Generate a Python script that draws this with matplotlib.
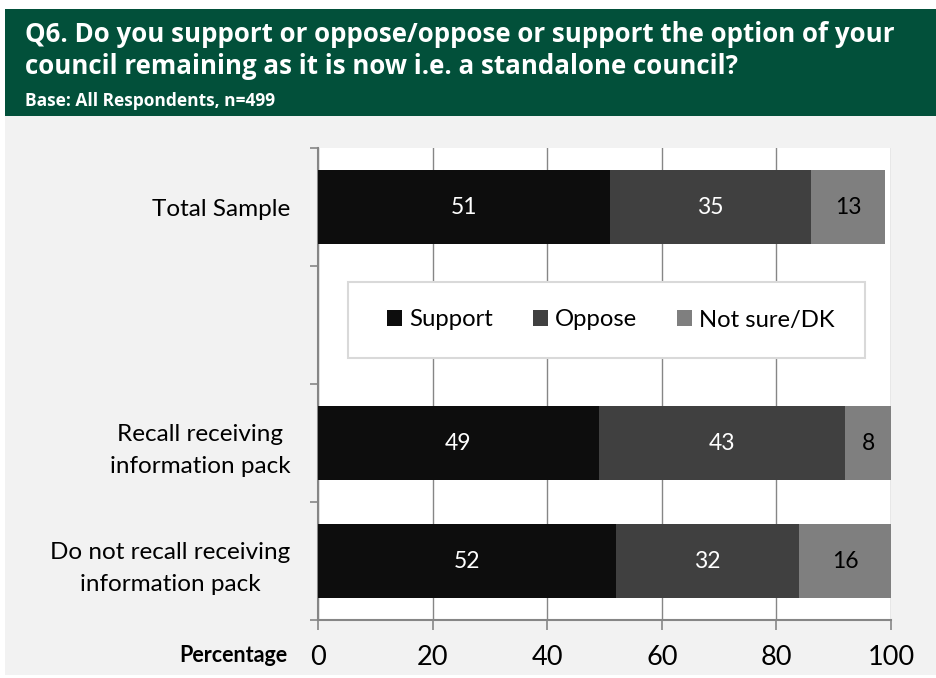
import numpy as np
import matplotlib.pyplot as plt
from matplotlib.patches import Rectangle

# data
categories = ['Total Sample', '', 'Recall receiving\ninformation pack',
              'Do not recall receiving\ninformation pack']
support = [51, np.nan, 49, 52]
oppose = [35, np.nan, 43, 32]
not_sure = [13, np.nan, 8, 16]
series_names = ['Support', 'Oppose', 'Not sure/DK']
colors = ['#0d0d0d', '#404040', '#7f7f7f']
label_colors = ['white', 'white', 'black']
xticks = [0, 20, 40, 60, 80, 100]

plt.rcParams['font.family'] = ['Lato', 'DejaVu Sans']

W, H = 936, 678
fig = plt.figure(figsize=(W / 100, H / 100), dpi=100)
fig.patch.set_facecolor('white')

# header band and grey panel
fig.patches.append(Rectangle((5 / W, 1 - 116 / H), 931 / W, 107 / H,
                             transform=fig.transFigure, facecolor='#02503a',
                             edgecolor='none', zorder=-2))
fig.patches.append(Rectangle((5 / W, 1 - 675 / H), 931 / W, 559 / H,
                             transform=fig.transFigure, facecolor='#f2f2f2',
                             edgecolor='none', zorder=-2))

fig.text(25 / W, 1 - 34 / H,
         'Q6. Do you support or oppose/oppose or support the option of your',
         color='white', fontsize=18.6, fontweight='bold', va='center',
         family='Open Sans')
fig.text(25 / W, 1 - 67 / H,
         'council remaining as it is now i.e. a standalone council?',
         color='white', fontsize=18.6, fontweight='bold', va='center',
         family='Open Sans')
fig.text(25 / W, 1 - 101 / H, 'Base: All Respondents, n=499',
         color='white', fontsize=12.5, fontweight='bold', va='center',
         family='Open Sans')

ax = fig.add_axes([318 / W, 1 - 620 / H, 573 / W, 472 / H])
ax.set_zorder(1)
ax.set_facecolor('white')

y = np.arange(len(categories))
left = np.zeros(len(categories))
handles = []
for vals, name, c, lc in zip([support, oppose, not_sure], series_names,
                             colors, label_colors):
    vals = np.array(vals, dtype=float)
    b = ax.barh(y, vals, left=left, height=0.62, color=c, label=name, zorder=3)
    handles.append(b)
    for yi, v, l in zip(y, vals, left):
        if not np.isnan(v):
            ax.text(l + v / 2, yi, f'{v:.0f}', color=lc, ha='center',
                    va='center', fontsize=16.5, zorder=4)
    left = left + np.nan_to_num(vals)

ax.set_xlim(0, 100)
ax.set_ylim(len(categories) - 0.5, -0.5)
ax.set_xticks(xticks)
ax.set_xticklabels([str(t) for t in xticks], fontsize=19.5)
ax.set_yticks(y)
ax.set_yticklabels(categories, fontsize=17.5)
for lab in ax.get_yticklabels():
    lab.set_multialignment('center')
    lab.set_linespacing(1.65)
ax.set_yticks(np.arange(len(categories) + 1) - 0.5, minor=True)
ax.tick_params(axis='y', which='major', length=0, pad=20)
ax.tick_params(axis='y', which='minor', length=6, color='#868686', width=1.2)
ax.tick_params(axis='x', length=7, color='#868686', width=1.2, pad=11)
ax.grid(axis='x', color='#868686', linewidth=1, zorder=0)
for s in ['top', 'right']:
    ax.spines[s].set_visible(False)
for s in ['left', 'bottom']:
    ax.spines[s].set_color('#868686')
    ax.spines[s].set_linewidth(1.5)

fig.text(287 / W, 1 - 655 / H, 'Percentage', fontsize=15.5, fontweight='bold',
         ha='right', va='center')

# legend box
fig.patches.append(Rectangle((348 / W, 1 - 358 / H), 517 / W, 76 / H,
                             transform=fig.transFigure, facecolor='white',
                             edgecolor='#d9d9d9', linewidth=1.5, zorder=5))
leg = fig.legend(handles=handles, labels=series_names, loc='center',
                 bbox_to_anchor=(611 / W, 1 - 320 / H), ncol=3, frameon=False,
                 fontsize=17.2, handlelength=0.63, handleheight=0.63,
                 handletextpad=0.3, columnspacing=1.67)
leg.set_zorder(6)

fig.savefig('out.png', dpi=100)
